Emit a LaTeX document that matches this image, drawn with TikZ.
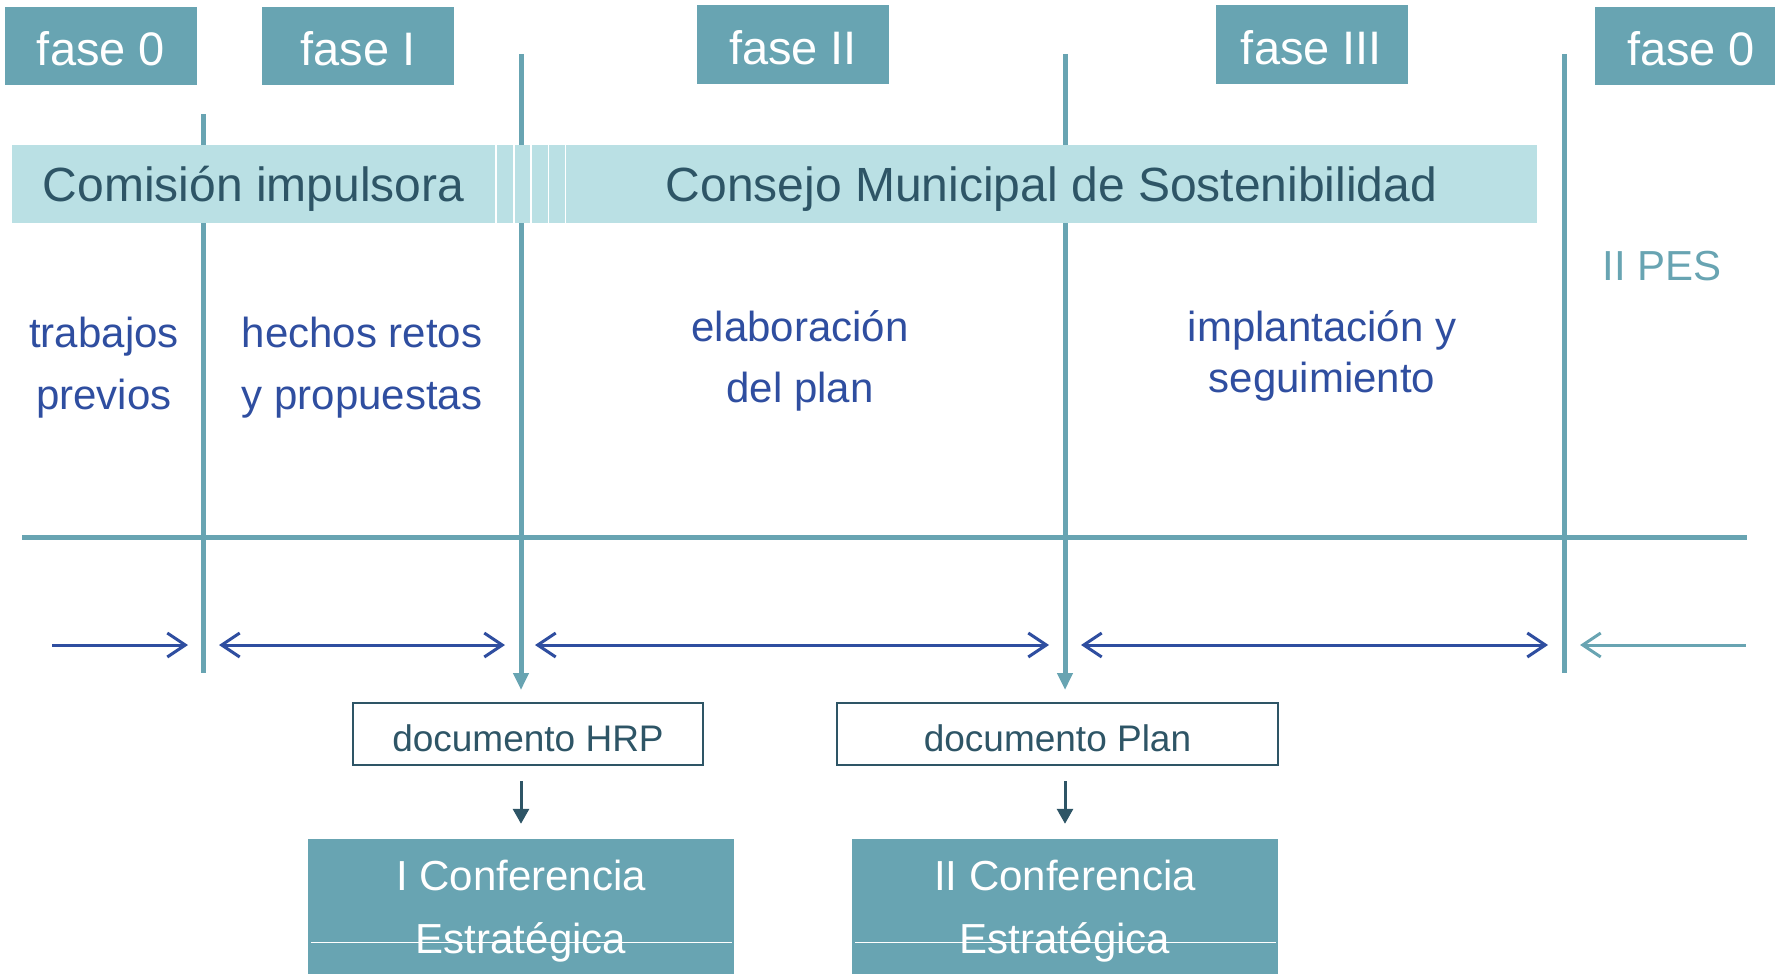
\documentclass[tikz,border=0pt]{standalone}
\usepackage{fontspec}
\setmainfont{Liberation Sans}
\usetikzlibrary{arrows.meta,positioning}

\definecolor{tealbox}{HTML}{68A4B2}
\definecolor{bandcol}{HTML}{BAE0E4}
\definecolor{darkslate}{HTML}{2E5566}
\definecolor{bluetxt}{HTML}{2F4EA0}

\tikzset{
  fasebox/.style={fill=tealbox,text=white,inner sep=0pt,minimum width=192pt,minimum height=78pt,text height=40pt,text depth=0pt,font=\fontsize{47}{56}\selectfont},
  bandbox/.style={fill=bandcol,text=darkslate,inner sep=0pt,minimum height=78pt,text height=35pt,text depth=0pt,font=\fontsize{48}{58}\selectfont},
  etapa/.style={text=bluetxt,align=center,inner sep=0pt},
  docbox/.style={draw=darkslate,line width=2.5pt,text=darkslate,inner sep=0pt,minimum height=62pt,text height=35pt,text depth=0pt,font=\fontsize{37}{44}\selectfont},
  confbox/.style={fill=tealbox,text=white,inner sep=0pt,minimum height=145pt,align=center,font=\fontsize{42}{63}\selectfont},
  divider/.style={tealbox,line width=5pt},
  span/.style={bluetxt,line width=3pt,{Straight Barb[length=18pt,width=24pt]}-{Straight Barb[length=18pt,width=24pt]}}
}

\begin{document}
\begin{tikzpicture}[x=1pt,y=-1pt]
\useasboundingbox (0,0) rectangle (1775,974);

% fases
\node[fasebox] (f0) at (101,46) {fase 0};
\node[fasebox] (fI) at (358,46) {fase I};
\node[fasebox] (fII) at (793,44.5) {fase II};
\node[fasebox] (fIII) at (1311.5,44.5) {fase III};
\node[fasebox] (f0b) at (1691,46) {fase 0};

% divisiones
\draw[divider] (203,114) -- (203,673);
\draw[divider,-{Triangle[length=17pt,width=15pt]}] (521,54) -- (521,690);
\draw[divider,-{Triangle[length=17pt,width=15pt]}] (1065,54) -- (1065,690);
\draw[divider] (1564,54) -- (1564,673);
\draw[divider] (22,537) -- (1747,537);

% organos
\node[bandbox,minimum width=483pt] (com) at (253.5,184) {Comisión impulsora};
\foreach \sx in {497,514.5,532,549}
  \fill[bandcol] (\sx,145) rectangle +(15.5,78);
\node[bandbox,minimum width=971pt] (cms) at (1051.5,184) {Consejo Municipal de Sostenibilidad};

% etapas
\node[etapa,font=\fontsize{42}{62}\selectfont] (trab) at (104,368) {trabajos\\previos};
\node[etapa,font=\fontsize{42}{62}\selectfont] (hrp) at (362,368) {hechos retos\\y propuestas};
\node[etapa,font=\fontsize{42}{61}\selectfont] (elab) at (800,361) {elaboración\\del plan};
\node[etapa,font=\fontsize{42}{51}\selectfont] (impl) at (1322,356) {implantación y\\seguimiento};
\node[etapa,text=tealbox,font=\fontsize{42}{50}\selectfont] (pes) at (1662,266) {II PES};

% tramos
\draw[bluetxt,line width=3pt,-{Straight Barb[length=18pt,width=24pt]}] (52,645) -- (188,645);
\draw[span] (219,645) -- (505,645);
\draw[span] (535,645) -- (1049,645);
\draw[span] (1081,645) -- (1548,645);
\draw[tealbox,line width=3pt,{Straight Barb[length=18pt,width=24pt]}-] (1580,645) -- (1746,645);

% documentos y conferencias
\node[docbox,minimum width=350pt] (dhrp) at (528,734) {documento HRP};
\node[docbox,minimum width=441pt] (dplan) at (1057.5,734) {documento Plan};
\node[confbox,minimum width=426pt] (conf1) at (521,911.5) {I Conferencia\\Estratégica};
\node[confbox,minimum width=426pt] (conf2) at (1065,911.5) {II Conferencia\\Estratégica};

\draw[darkslate,line width=3pt,-{Triangle[length=15pt,width=16pt]},shorten <=15pt,shorten >=15pt] (dhrp.south -| conf1.north) -- (conf1.north);
\draw[darkslate,line width=3pt,-{Triangle[length=15pt,width=16pt]},shorten <=15pt,shorten >=15pt] (dplan.south -| conf2.north) -- (conf2.north);

\draw[white,line width=1pt] (311,942) -- (732,942);
\draw[white,line width=1pt] (855,942) -- (1276,942);
\end{tikzpicture}
\end{document}
